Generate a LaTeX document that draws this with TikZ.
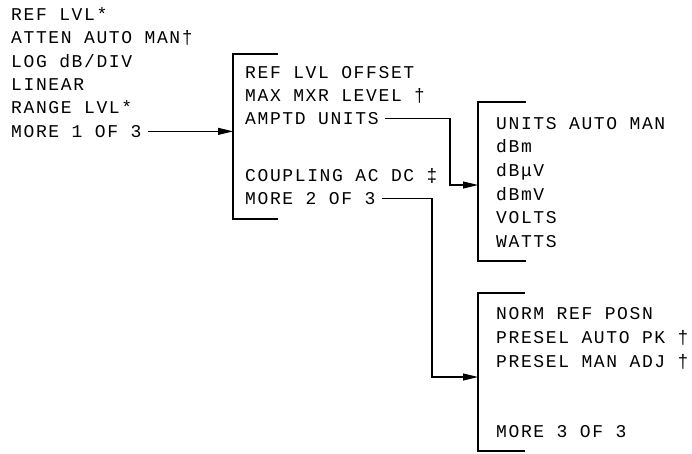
\documentclass[tikz,border=0pt]{standalone}
\usepackage{fontspec}
\setmonofont{Liberation Mono}[LetterSpace=9]
\usetikzlibrary{arrows.meta}

\begin{document}
\begin{tikzpicture}[
    x=1pt, y=-1pt,
    item/.style={anchor=base west, inner sep=0pt, font=\ttfamily\fontsize{18}{20}\selectfont},
    bracket/.style={line width=1.5pt},
    conn/.style={-{Triangle[length=15pt, width=7pt]}, line width=1.1pt}
]
    \useasboundingbox (0,0) rectangle (692,453);

    % first level
    \node[item] (reflvl) at (11,20.3)  {REF LVL*};
    \node[item] (atten)  at (11,43.7)  {ATTEN AUTO MAN†};
    \node[item] (logdb)  at (11,67.1)  {LOG dB/DIV};
    \node[item] (linear) at (11,90.5)  {LINEAR};
    \node[item] (range)  at (11,113.9) {RANGE LVL*};
    \node[item] (more1)  at (11,137.3) {MORE 1 OF 3};

    % second level
    \coordinate (b2top) at (233,54);
    \coordinate (b2bot) at (233,219);
    \draw[bracket] ([xshift=45pt]b2top) -- (b2top) -- (b2bot) -- ++(45,0);
    \node[item] (offset)   at (245,78.3)  {REF LVL OFFSET};
    \node[item] (maxmxr)   at (245,101.3) {MAX MXR LEVEL †};
    \node[item] (amptd)    at (245,124.3) {AMPTD UNITS};
    \node[item] (coupling) at (245,181.3) {COUPLING AC DC ‡};
    \node[item] (more2)    at (245,204.3) {MORE 2 OF 3};

    % units menu
    \coordinate (b3top) at (478,102);
    \coordinate (b3bot) at (478,261);
    \draw[bracket] ([xshift=48pt]b3top) -- (b3top) -- (b3bot) -- ++(48,0);
    \node[item] (units) at (496,129.3) {UNITS AUTO MAN};
    \node[item] (dbm)   at (496,152.9) {dBm};
    \node[item] (dbuv)  at (496,176.5) {dBμV};
    \node[item] (dbmv)  at (496,200.1) {dBmV};
    \node[item] (volts) at (496,223.7) {VOLTS};
    \node[item] (watts) at (496,247.3) {WATTS};

    % third level
    \coordinate (b4top) at (478,293);
    \coordinate (b4bot) at (478,451);
    \draw[bracket] ([xshift=47pt]b4top) -- (b4top) -- (b4bot) -- ++(47,0);
    \node[item] (norm)   at (496,319.3) {NORM REF POSN};
    \node[item] (autopk) at (496,343.3) {PRESEL AUTO PK †};
    \node[item] (manadj) at (496,367.3) {PRESEL MAN ADJ †};
    \node[item] (more3)  at (496,437.3) {MORE 3 OF 3};

    % connectors
    \coordinate (j3) at (450,185);
    \coordinate (in3) at (478,185);
    \coordinate (j4) at (432,377);
    \coordinate (in4) at (478,377);
    \draw[conn] ([xshift=6pt]more1.east) -- (more1.east -| b2top);
    \draw[conn] ([xshift=6pt]amptd.east) -| (j3) -- (in3);
    \draw[conn] ([xshift=6pt]more2.east) -| (j4) -- (in4);
\end{tikzpicture}
\end{document}
